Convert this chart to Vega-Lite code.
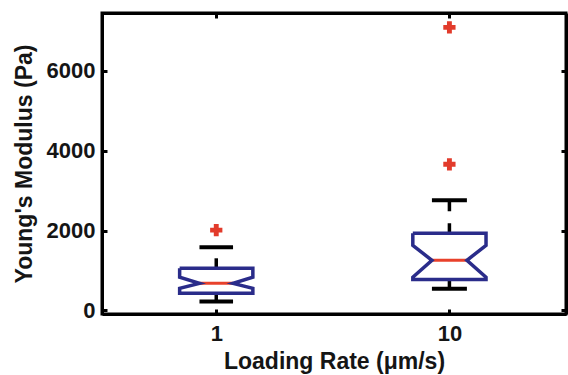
{
  "$schema": "https://vega.github.io/schema/vega-lite/v6.json",
  "width": 464,
  "height": 301,
  "autosize": {"type": "none"},
  "padding": {"left": 102, "top": 13, "right": 2, "bottom": 61},
  "background": "white",
  "config": {
    "view": {"stroke": "black", "strokeWidth": 3},
    "axis": {
      "domainColor": "black",
      "domainWidth": 3,
      "tickColor": "black",
      "tickWidth": 3,
      "tickSize": -5,
      "grid": false,
      "labelFont": "Liberation Sans",
      "labelFontWeight": "bold",
      "labelFontSize": 22,
      "labelColor": "#151515",
      "titleFont": "Liberation Sans",
      "titleFontWeight": "bold",
      "titleFontSize": 23,
      "titleColor": "#151515"
    }
  },
  "datasets": {
    "outline": [
      {"rate": "1", "k": 0, "x": 0.843, "y": 1055},
      {"rate": "1", "k": 1, "x": 1.157, "y": 1055},
      {"rate": "1", "k": 2, "x": 1.157, "y": 830},
      {"rate": "1", "k": 3, "x": 1.072, "y": 678},
      {"rate": "1", "k": 4, "x": 1.157, "y": 552},
      {"rate": "1", "k": 5, "x": 1.157, "y": 427},
      {"rate": "1", "k": 6, "x": 0.843, "y": 427},
      {"rate": "1", "k": 7, "x": 0.843, "y": 552},
      {"rate": "1", "k": 8, "x": 0.928, "y": 678},
      {"rate": "1", "k": 9, "x": 0.843, "y": 830},
      {"rate": "1", "k": 10, "x": 0.843, "y": 1055},
      {"rate": "10", "k": 0, "x": 1.843, "y": 1930},
      {"rate": "10", "k": 1, "x": 2.157, "y": 1930},
      {"rate": "10", "k": 2, "x": 2.157, "y": 1630},
      {"rate": "10", "k": 3, "x": 2.075, "y": 1255},
      {"rate": "10", "k": 4, "x": 2.157, "y": 830},
      {"rate": "10", "k": 5, "x": 2.157, "y": 772},
      {"rate": "10", "k": 6, "x": 1.843, "y": 772},
      {"rate": "10", "k": 7, "x": 1.843, "y": 830},
      {"rate": "10", "k": 8, "x": 1.925, "y": 1255},
      {"rate": "10", "k": 9, "x": 1.843, "y": 1630},
      {"rate": "10", "k": 10, "x": 1.843, "y": 1930}
    ],
    "stats": [
      {"rate": "1", "pos": 1, "left": 0.928, "right": 1.072, "q1": 427, "q3": 1055, "median": 678, "whiskerLo": 226, "whiskerHi": 1583},
      {"rate": "10", "pos": 2, "left": 1.925, "right": 2.075, "q1": 772, "q3": 1930, "median": 1255, "whiskerLo": 540, "whiskerHi": 2760}
    ],
    "outliers": [
      {"rate": "1", "pos": 1, "value": 2010},
      {"rate": "10", "pos": 2, "value": 3660},
      {"rate": "10", "pos": 2, "value": 7090}
    ]
  },
  "resolve": {"axis": {"x": "independent", "y": "independent"}},
  "layer": [
    {
      "data": {"name": "stats"},
      "mark": {"type": "rule", "color": "black", "strokeWidth": 3.5, "strokeDash": [10, 12]},
      "encoding": {
        "x": {"field": "pos", "type": "quantitative", "scale": {"domain": [0.51, 2.5], "nice": false, "zero": false},
              "axis": {"values": [1, 2], "labelExpr": "datum.value == 1 ? '1' : '10'", "labelPadding": 14, "title": "Loading Rate (μm/s)", "titlePadding": 6}},
        "y": {"field": "q3", "type": "quantitative", "scale": {"domain": [-90, 7450], "nice": false, "zero": false},
              "axis": {"values": [0, 2000, 4000, 6000], "format": "d", "labelPadding": 12, "title": "Young's Modulus (Pa)", "titlePadding": 10}},
        "y2": {"field": "whiskerHi"}
      }
    },
    {
      "data": {"name": "stats"},
      "mark": {"type": "rule", "color": "black", "strokeWidth": 3.5, "strokeDash": [10, 12]},
      "encoding": {
        "x": {"field": "pos", "type": "quantitative", "axis": null},
        "y": {"field": "q1", "type": "quantitative", "axis": null},
        "y2": {"field": "whiskerLo"}
      }
    },
    {
      "data": {"name": "stats"},
      "mark": {"type": "rule", "color": "black", "strokeWidth": 4},
      "encoding": {
        "x": {"field": "left", "type": "quantitative", "axis": null},
        "x2": {"field": "right"},
        "y": {"field": "whiskerHi", "type": "quantitative", "axis": null}
      }
    },
    {
      "data": {"name": "stats"},
      "mark": {"type": "rule", "color": "black", "strokeWidth": 4},
      "encoding": {
        "x": {"field": "left", "type": "quantitative", "axis": null},
        "x2": {"field": "right"},
        "y": {"field": "whiskerLo", "type": "quantitative", "axis": null}
      }
    },
    {
      "data": {"name": "stats"},
      "mark": {"type": "rule", "color": "#E8412B", "strokeWidth": 3},
      "encoding": {
        "x": {"field": "left", "type": "quantitative", "axis": null},
        "x2": {"field": "right"},
        "y": {"field": "median", "type": "quantitative", "axis": null}
      }
    },
    {
      "data": {"name": "outline"},
      "mark": {"type": "line", "color": "#2A2C8A", "strokeWidth": 3.5, "strokeJoin": "miter"},
      "encoding": {
        "x": {"field": "x", "type": "quantitative", "axis": null},
        "y": {"field": "y", "type": "quantitative", "axis": null},
        "detail": {"field": "rate"},
        "order": {"field": "k", "type": "quantitative"}
      }
    },
    {
      "data": {"name": "outliers"},
      "mark": {"type": "point", "shape": "cross", "filled": true, "color": "#E23B2B", "size": 150, "opacity": 1},
      "encoding": {
        "x": {"field": "pos", "type": "quantitative",
              "axis": {"orient": "top", "values": [1, 2], "labels": false, "title": null}},
        "y": {"field": "value", "type": "quantitative",
              "axis": {"orient": "right", "values": [0, 2000, 4000, 6000], "labels": false, "title": null}}
      }
    }
  ]
}
